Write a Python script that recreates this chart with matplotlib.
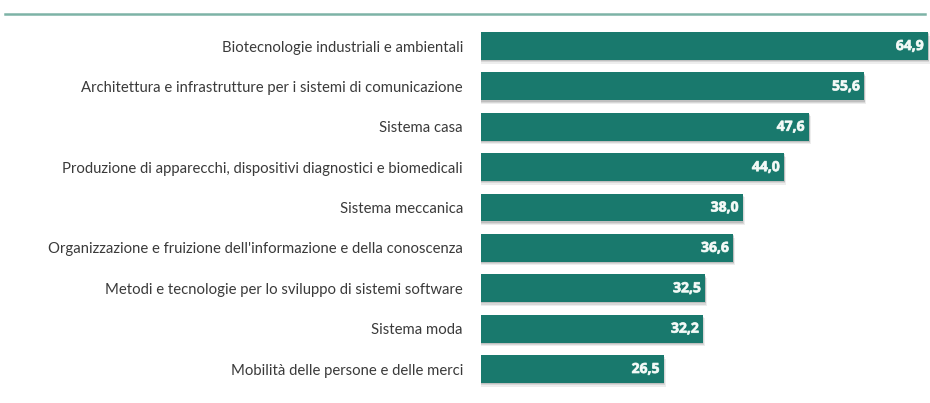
import matplotlib
matplotlib.use("Agg")
import matplotlib.pyplot as plt
from matplotlib.lines import Line2D
import matplotlib.patheffects as pe

categories = [
    "Biotecnologie industriali e ambientali",
    "Architettura e infrastrutture per i sistemi di comunicazione",
    "Sistema casa",
    "Produzione di apparecchi, dispositivi diagnostici e biomedicali",
    "Sistema meccanica",
    "Organizzazione e fruizione dell'informazione e della conoscenza",
    "Metodi e tecnologie per lo sviluppo di sistemi software",
    "Sistema moda",
    "Mobilità delle persone e delle merci",
]
values = [64.9, 55.6, 47.6, 44.0, 38.0, 36.6, 32.5, 32.2, 26.5]
value_labels = ["64,9", "55,6", "47,6", "44,0", "38,0", "36,6", "32,5", "32,2", "26,5"]

W, H = 930, 403
fig = plt.figure(figsize=(W / 100, H / 100), dpi=100)
fig.patch.set_facecolor("white")

ax = fig.add_axes([481 / W, 0, 449 / W, 1])
ax.set_facecolor("none")

bar_color = "#19796d"
pos = list(range(len(categories)))

# soft drop shadow beneath each bar
for dx, dy, a in [(0.35, 0.09, 0.10), (0.2, 0.06, 0.14), (0.1, 0.03, 0.18)]:
    ax.barh([p + dy for p in pos], [v + dx for v in values], height=0.69,
            color="#555555", alpha=a, zorder=1, linewidth=0)

ax.barh(pos, values, height=0.69, color=bar_color, zorder=2, linewidth=0)

for p, v, lab in zip(pos, values, value_labels):
    ax.text(v - 0.6, p, lab, ha="right", va="center", color="#f4faf8",
            fontsize=10, fontweight="bold", family="Open Sans", zorder=3,
            path_effects=[pe.withStroke(linewidth=0.6, foreground="#d5e9e3")])

ax.set_xlim(0, 64.9 * 449 / 447)
ax.set_ylim(8 + 34 / 40.375, -46 / 40.375)
ax.set_yticks(pos)
ax.set_yticklabels(categories, fontsize=10.7, color="#3a3a3a", family="Lato")
ax.tick_params(axis="y", length=0, pad=13)
ax.set_xticks([])
for s in ax.spines.values():
    s.set_visible(False)

# rule across the top of the chart
fig.add_artist(Line2D([5 / W, 925 / W], [1 - 14 / H, 1 - 14 / H],
                      color="#7db3a6", linewidth=1.8, transform=fig.transFigure))

fig.savefig("out.png", dpi=100)
